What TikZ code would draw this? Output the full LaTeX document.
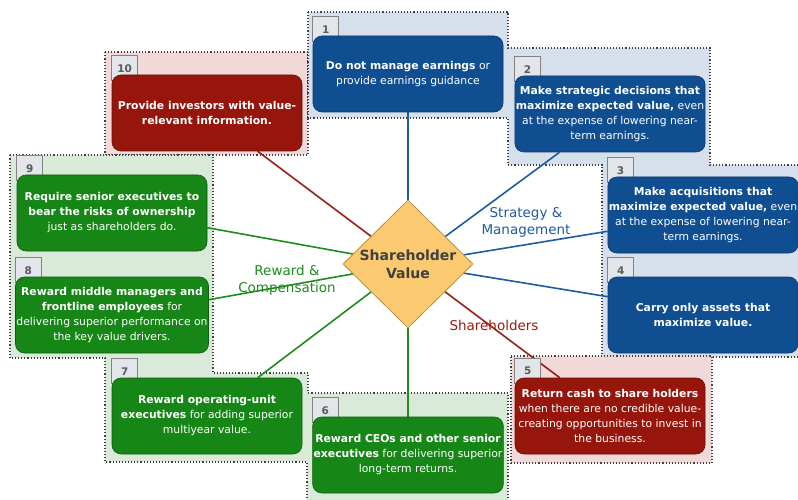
\documentclass[tikz,border=0pt]{standalone}
\usepackage{fontspec}
\setmainfont{DejaVu Sans}
\usetikzlibrary{shapes.geometric,calc}
\pgfdeclarelayer{bg}
\pgfdeclarelayer{lines}
\pgfdeclarelayer{tabs}
\pgfsetlayers{bg,lines,tabs,main}
\definecolor{bluebox}{RGB}{16,78,146}
\definecolor{redbox}{RGB}{150,22,12}
\definecolor{greenbox}{RGB}{22,135,22}
\definecolor{bluepanel}{RGB}{214,224,236}
\definecolor{redpanel}{RGB}{241,217,217}
\definecolor{greenpanel}{RGB}{217,234,217}
\definecolor{blueline}{RGB}{30,92,162}
\definecolor{redline}{RGB}{150,30,20}
\definecolor{greenline}{RGB}{30,140,30}
\definecolor{tabfill}{RGB}{226,230,234}
\definecolor{tabedge}{RGB}{130,130,130}
\definecolor{tabtext}{RGB}{90,90,90}
\definecolor{diafill}{RGB}{250,201,112}
\definecolor{diaedge}{RGB}{185,145,65}
\definecolor{diatext}{RGB}{64,64,64}
\definecolor{lblblue}{RGB}{35,90,160}
\definecolor{lblgreen}{RGB}{30,140,30}
\definecolor{lblred}{RGB}{150,30,20}
\tikzset{
  card/.style={rounded corners=9pt, draw=#1!70!black, fill=#1, text=white,
    minimum width=190pt, minimum height=76pt, inner sep=1pt, align=center,
    font=\fontsize{10.8}{15}\selectfont, line width=0.6pt},
  numtab/.style={draw=tabedge, fill=tabfill, minimum width=26pt, minimum height=25pt,
    inner sep=0pt, font=\bfseries\fontsize{10.5}{12}\selectfont, text=tabtext, line width=0.6pt},
  panel/.style={fill=#1, draw=black!75, line width=1.1pt, dash pattern=on 1.1pt off 2pt},
  conn/.style={line width=1.6pt, draw=#1},
  lbl/.style={text=#1, font=\fontsize{13.5}{17}\selectfont, align=center}
}
\begin{document}
\begin{tikzpicture}[x=1pt,y=-1pt]
\useasboundingbox (0,0) rectangle (798,500);
% background panels
\begin{pgfonlayer}{bg}
  \fill[white] (0,0) rectangle (798,500);
  \draw[panel=redpanel] (105,52) -- (308,52) -- (308,155) -- (105,155) -- cycle;
  \draw[panel=bluepanel] (308,12) -- (508,12) -- (508,48) -- (710,48) -- (710,165)
     -- (802,165) -- (802,357) -- (602,357) -- (602,165) -- (508,165) -- (508,118)
     -- (308,118) -- cycle;
  \draw[panel=redpanel] (511,356) -- (712,356) -- (712,463) -- (511,463) -- cycle;
  \draw[panel=greenpanel] (10,155) -- (213,155) -- (213,373) -- (308,373) -- (308,393)
     -- (508,393) -- (508,504) -- (307,504) -- (307,462) -- (105,462) -- (105,358)
     -- (10,358) -- cycle;
\end{pgfonlayer}

% cards
\node[card=bluebox] (b1) at (408,74)
  {\textbf{Do not manage earnings} or\\provide earnings guidance};
\node[card=bluebox] (b2) at (610,114)
  {\textbf{Make strategic decisions that}\\\textbf{maximize expected value,} even\\at the expense of lowering near-\\term earnings.};
\node[card=bluebox] (b3) at (703,215)
  {\textbf{Make acquisitions that}\\\textbf{maximize expected value,} even\\at the expense of lowering near-\\term earnings.};
\node[card=bluebox] (b4) at (703,315)
  {\textbf{Carry only assets that}\\\textbf{maximize value.}};
\node[card=redbox] (b5) at (610,416)
  {\textbf{Return cash to share holders}\\when there are no credible value-\\creating opportunities to invest in\\the business.};
\node[card=greenbox] (b6) at (408,455)
  {\textbf{Reward CEOs and other senior}\\\textbf{executives} for delivering superior\\long-term returns.};
\node[card=greenbox] (b7) at (207,416)
  {\textbf{Reward operating-unit}\\\textbf{executives} for adding superior\\multiyear value.};
\node[card=greenbox] (b8) at (112,315)
  {\textbf{Reward middle managers and}\\\textbf{frontline employees} for\\delivering superior performance on\\the key value drivers.};
\node[card=greenbox] (b9) at (112,213)
  {\textbf{Require senior executives to}\\\textbf{bear the risks of ownership}\\just as shareholders do.};
\node[card=redbox] (b10) at (207,113)
  {\textbf{Provide investors with value-}\\\textbf{relevant information.}};

% number tabs
\begin{pgfonlayer}{tabs}
  \foreach \b/\n in {b1/1,b2/2,b3/3,b4/4,b5/5,b6/6,b7/7,b8/8,b9/9,b10/10}{
    \node[numtab] (t\n) at ($(\b.north west)+(13,-6.5)$) {\n};
  }
\end{pgfonlayer}

% center diamond
\node[diamond, draw=diaedge, fill=diafill, minimum width=130pt, minimum height=128pt,
  inner sep=0pt, align=center, text=diatext, line width=0.8pt,
  font=\bfseries\fontsize{14}{18}\selectfont] (sv) at (408,264) {Shareholder\\Value};

% connectors
\begin{pgfonlayer}{lines}
  \draw[conn=blueline] (sv.center) -- (b1.south);
  \draw[conn=blueline] (sv.center) -- ($(b2.south west)+(45,0)$);
  \draw[conn=blueline] (sv.center) -- ($(b3.south west)+(0,-22)$);
  \draw[conn=blueline] (sv.center) -- ($(b4.north west)+(0,20)$);
  \draw[conn=redline] (sv.center) -- ($(b5.north west)+(45,0)$);
  \draw[conn=redline] (sv.center) -- ($(b10.south west)+(146,0)$);
  \draw[conn=greenline] (sv.center) -- (b6.north);
  \draw[conn=greenline] (sv.center) -- ($(b7.north west)+(146,0)$);
  \draw[conn=greenline] (sv.center) -- ($(b8.north east)+(0,23)$);
  \draw[conn=greenline] (sv.center) -- ($(b9.north east)+(0,53)$);
\end{pgfonlayer}

% group labels
\node[lbl=lblblue] (lblS) at (526,222) {Strategy \&\\Management};
\node[lbl=lblgreen] (lblR) at (287,280) {Reward \&\\Compensation};
\node[lbl=lblred] (lblSh) at (494,325) {Shareholders};
\end{tikzpicture}
\end{document}
